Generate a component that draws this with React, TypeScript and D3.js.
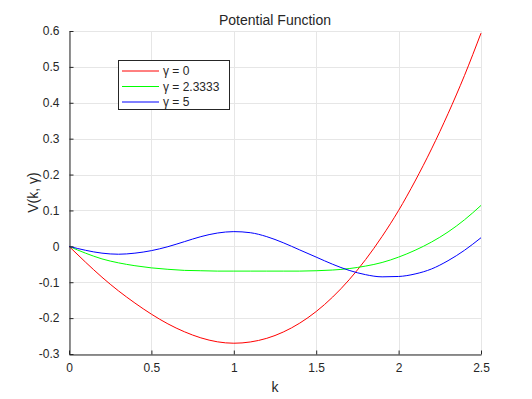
import React, { useEffect, useRef } from 'react';
import * as d3 from 'd3';

// k samples shared by all three curves
const kValues = [0, 0.1, 0.2, 0.3, 0.4, 0.5, 0.6, 0.7, 0.8, 0.9, 1.0, 1.1, 1.2, 1.3, 1.4, 1.5, 1.6, 1.7, 1.8, 1.9, 2.0, 2.1, 2.2, 2.3, 2.4, 2.5];

const gamma0 = [0, -0.044, -0.086, -0.124, -0.158, -0.189, -0.216, -0.238, -0.255, -0.266, -0.270, -0.2665, -0.2563, -0.2388, -0.214, -0.1816, -0.1413, -0.0931, -0.0368, 0.0277, 0.10, 0.1819, 0.2715, 0.3696, 0.4763, 0.594];
const gamma233 = [0, -0.019, -0.035, -0.046, -0.054, -0.060, -0.064, -0.067, -0.068, -0.069, -0.069, -0.069, -0.069, -0.069, -0.069, -0.068, -0.066, -0.062, -0.055, -0.045, -0.030, -0.011, 0.012, 0.040, 0.074, 0.114];
const gamma5 = [0, -0.011, -0.019, -0.022, -0.019, -0.012, -0.001, 0.013, 0.027, 0.037, 0.041, 0.038, 0.027, 0.010, -0.010, -0.030, -0.050, -0.067, -0.079, -0.085, -0.084, -0.077, -0.063, -0.040, -0.011, 0.024];

const seriesNames = ['γ = 0', 'γ = 2.3333', 'γ = 5'];
const seriesColors = ['#ff0000', '#00ff00', '#0000ff'];

const xTicks = [0, 0.5, 1, 1.5, 2, 2.5];
const yTicks = [-0.3, -0.2, -0.1, 0, 0.1, 0.2, 0.3, 0.4, 0.5, 0.6];

const App = () => {
    const ref = useRef<SVGSVGElement>(null);

    useEffect(() => {
        const svg = d3.select(ref.current);
        svg.selectAll('*').remove();

        const width = 532;
        const height = 399;
        const margin = { top: 31, right: 51, bottom: 45, left: 69 };
        const font = "'Liberation Sans', Arial, sans-serif";
        const ink = '#262626';

        const x = d3.scaleLinear().domain([0, 2.5]).range([margin.left, width - margin.right]);
        const y = d3.scaleLinear().domain([-0.3, 0.6]).range([height - margin.bottom, margin.top]);

        svg.append('rect').attr('width', width).attr('height', height).attr('fill', '#fff');

        // grid
        const grid = svg.append('g').attr('stroke', '#e6e6e6').attr('stroke-width', 1);
        grid.selectAll('.gx').data(xTicks).join('line')
            .attr('x1', d => Math.round(x(d)) + 0.5).attr('x2', d => Math.round(x(d)) + 0.5)
            .attr('y1', y(-0.3)).attr('y2', y(0.6));
        grid.selectAll('.gy').data(yTicks).join('line')
            .attr('y1', d => Math.round(y(d)) + 0.5).attr('y2', d => Math.round(y(d)) + 0.5)
            .attr('x1', x(0)).attr('x2', x(2.5));

        // curves
        const allSeries = [gamma0, gamma233, gamma5];
        const line = d3.line<number>()
            .x((_, i) => x(kValues[i]))
            .y(d => y(d))
            .curve(d3.curveMonotoneX);
        svg.append('g').selectAll('path').data(allSeries).join('path')
            .attr('d', d => line(d))
            .attr('fill', 'none')
            .attr('stroke', (_, i) => seriesColors[i])
            .attr('stroke-width', 1);

        // axes
        const xAxis = svg.append('g')
            .attr('transform', `translate(0,${Math.round(y(-0.3)) + 0.5})`);
        xAxis.call(d3.axisBottom(x).tickValues(xTicks).tickSizeInner(-4).tickSizeOuter(0).tickPadding(9).tickFormat(d => String(d)));
        const yAxis = svg.append('g')
            .attr('transform', `translate(${Math.round(x(0)) + 0.5},0)`);
        yAxis.call(d3.axisLeft(y).tickValues(yTicks).tickSizeInner(-4).tickSizeOuter(0).tickPadding(10).tickFormat(d => String(d)));

        [xAxis, yAxis].forEach(g => {
            g.select('.domain').attr('stroke', ink);
            g.selectAll('.tick line').attr('stroke', ink);
            g.selectAll('.tick text').attr('fill', ink).style('font-family', font).style('font-size', '12px');
        });

        // title and labels
        svg.append('text')
            .attr('x', x(1.25)).attr('y', 25)
            .attr('text-anchor', 'middle')
            .attr('fill', ink)
            .style('font-family', font).style('font-size', '14px')
            .text('Potential Function');
        svg.append('text')
            .attr('x', x(1.25)).attr('y', 392)
            .attr('text-anchor', 'middle')
            .attr('fill', ink)
            .style('font-family', font).style('font-size', '14px')
            .text('k');
        svg.append('text')
            .attr('transform', `translate(38,${y(0.15)}) rotate(-90)`)
            .attr('text-anchor', 'middle')
            .attr('fill', ink)
            .style('font-family', font).style('font-size', '14px')
            .text('V(k, γ)');

        // legend
        const legend = svg.append('g').attr('transform', 'translate(118,60)');
        legend.append('rect')
            .attr('x', 0.5).attr('y', 0.5)
            .attr('width', 111).attr('height', 49)
            .attr('fill', '#fff').attr('stroke', ink).attr('stroke-width', 1);
        const rows = legend.selectAll('.row').data(seriesNames).join('g')
            .attr('transform', (_, i) => `translate(0,${11 + i * 15.5})`);
        rows.append('line')
            .attr('x1', 4).attr('x2', 41)
            .attr('y1', 0).attr('y2', 0)
            .attr('stroke', (_, i) => seriesColors[i]).attr('stroke-width', 1);
        rows.append('text')
            .attr('x', 45).attr('y', 4)
            .attr('fill', ink)
            .style('font-family', font).style('font-size', '12px')
            .text(d => d);
    }, []);

    return (
        <div style={{ position: 'fixed', top: 0, left: 0 }}>
            <svg ref={ref} width={532} height={399} style={{ display: 'block' }} />
        </div>
    );
};

export default App;
